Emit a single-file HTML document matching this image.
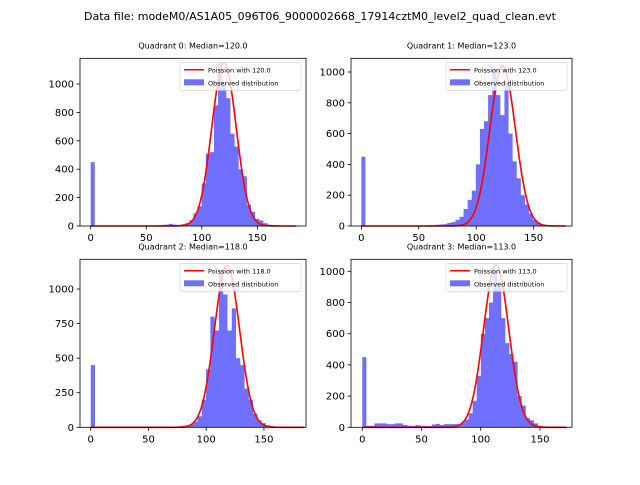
<!DOCTYPE html>
<html><head><meta charset="utf-8"><style>
body{margin:0;background:#fff;width:640px;height:480px;overflow:hidden}
svg text{font-family:"DejaVu Sans","Liberation Sans",sans-serif}
</style></head><body>
<svg id="fig" width="640" height="480" xmlns="http://www.w3.org/2000/svg">
<text x="320" y="20" font-size="11" text-anchor="middle">Data file: modeM0/AS1A05_096T06_9000002668_17914cztM0_level2_quad_clean.evt</text>
</svg>
<script>
const medians=[120,123,118,113];
const binWidths=[3.7,3.56,3.7,3.45];
const curvePeaks=[1150,1040,1170,1040];
const q0Counts=[450,0,0,0,0,0,0,0,0,0,0,0,0,0,0,3,5,8,10,15,10,8,12,20,40,90,140,300,510,520,850,1150,1000,900,650,560,400,350,150,100,50,40,20,10,5,4,2,1,0,0];
const q1Counts=[450,0,0,0,0,0,0,0,0,0,0,0,0,0,0,0,5,5,8,10,12,20,25,40,60,110,170,230,400,630,680,850,1020,850,720,940,600,420,310,200,140,80,40,20,10,5,3,2,1,0];
const q2Counts=[450,0,0,0,0,0,0,0,0,0,0,0,0,0,0,0,0,0,0,0,5,10,15,20,40,80,200,420,800,700,1130,960,700,860,500,450,280,200,100,50,30,15,8,4,2,1,0,0,0,0];
const q3Counts=[450,10,10,25,25,25,20,20,25,25,15,10,8,15,10,10,8,18,22,15,20,20,20,20,30,50,90,170,330,600,700,800,1000,900,700,540,470,420,200,140,60,45,25,10,3,1,0,0,0,0];
const allCounts=[q0Counts,q1Counts,q2Counts,q3Counts];
const xTicks=[0,50,100,150];
const yTicksA=[0,200,400,600,800,1000];
const yTicksB=[0,250,500,750,1000];
const yTickSets=[yTicksA,yTicksA,yTicksB,yTicksA];

const boxes=[{l:80,r:306,t:58.3,b:226,xmin:-9.6,xmax:193.8,ymax:1181},
{l:351,r:572,t:58.3,b:226,xmin:-9.0,xmax:183.4,ymax:1089},
{l:80,r:306,t:259.3,b:427.3,xmin:-9.3,xmax:186.4,ymax:1215},
{l:351,r:572,t:259.3,b:427.3,xmin:-9.5,xmax:177,ymax:1077}];
const NS='http://www.w3.org/2000/svg';
const svg=document.getElementById('fig');
function mk(tag,attrs,parent){const e=document.createElementNS(NS,tag);for(const k in attrs)e.setAttribute(k,attrs[k]);(parent||svg).appendChild(e);return e;}
boxes.forEach((B,q)=>{
  const g=mk('g',{});
  
  
  const X=v=>B.l+(v-B.xmin)/(B.xmax-B.xmin)*(B.r-B.l);
  const Y=v=>B.b-v/B.ymax*(B.b-B.t);
  const counts=allCounts[q],bw=binWidths[q];
  let hd='';
  counts.forEach((c,i)=>{
    if(c<=0)return;
    const x0=X(i*bw),x1=X((i+1)*bw);
    hd+='M'+x0.toFixed(2)+','+Y(0).toFixed(2)+'V'+Y(c).toFixed(2)+'H'+x1.toFixed(2)+'V'+Y(0).toFixed(2)+'Z';
  });
  const hp=mk('path',{d:hd,fill:'#7070ff'},g);
  
  
  const lam=medians[q],pk=curvePeaks[q],xEnd=counts.length*bw;
  let d='';
  for(let x=0;x<=xEnd;x+=0.5){const v=pk*Math.exp(-(x-lam)*(x-lam)/(2*lam));d+=(d?'L':'M')+X(x).toFixed(2)+','+Y(v).toFixed(2);}
  const p=mk('path',{d:d,fill:'none',stroke:'#ff0000','stroke-width':1.6},g);
  
  
  const fr=mk('rect',{x:B.l,y:B.t,width:B.r-B.l,height:B.b-B.t,fill:'none',stroke:'#000','stroke-width':0.8},g);
  
  
  xTicks.forEach(t=>{
    mk('line',{x1:X(t),x2:X(t),y1:B.b,y2:B.b+3.5,stroke:'#000','stroke-width':0.8},g);
    const tx=mk('text',{x:X(t),y:B.b+15,'font-size':10,'text-anchor':'middle'},g);tx.textContent=t;
    
    
  });
  yTickSets[q].forEach(t=>{
    mk('line',{x1:B.l-3.5,x2:B.l,y1:Y(t),y2:Y(t),stroke:'#000','stroke-width':0.8},g);
    const tx=mk('text',{x:B.l-6,y:Y(t)+3.5,'font-size':10,'text-anchor':'end'},g);tx.textContent=t;
    
    
  });
  const ti=mk('text',{x:(B.l+B.r)/2,y:B.t-10,'font-size':8,'text-anchor':'middle'},g);
  ti.textContent='Quadrant '+q+': Median='+lam.toFixed(1);
  
  
  const lg=mk('g',{},g);
  
  
  const lx=B.r-126,ly=B.t+4;
  mk('rect',{x:lx,y:ly,width:121,height:28,rx:2,fill:'#fff','fill-opacity':0.8,stroke:'#ccc','stroke-width':0.6},lg);
  mk('line',{x1:lx+4,x2:lx+24,y1:ly+7.5,y2:ly+7.5,stroke:'#ff0000','stroke-width':1.5},lg);
  mk('rect',{x:lx+4,y:ly+17,width:20,height:6,fill:'#7070ff'},lg);
  const t1=mk('text',{x:lx+28,y:ly+10,'font-size':6.5},lg);t1.textContent='Poission with '+lam.toFixed(1);
  
  
  const t2=mk('text',{x:lx+28,y:ly+23,'font-size':6.5},lg);t2.textContent='Observed distribution';
  
  
});
</script>
</body></html>
